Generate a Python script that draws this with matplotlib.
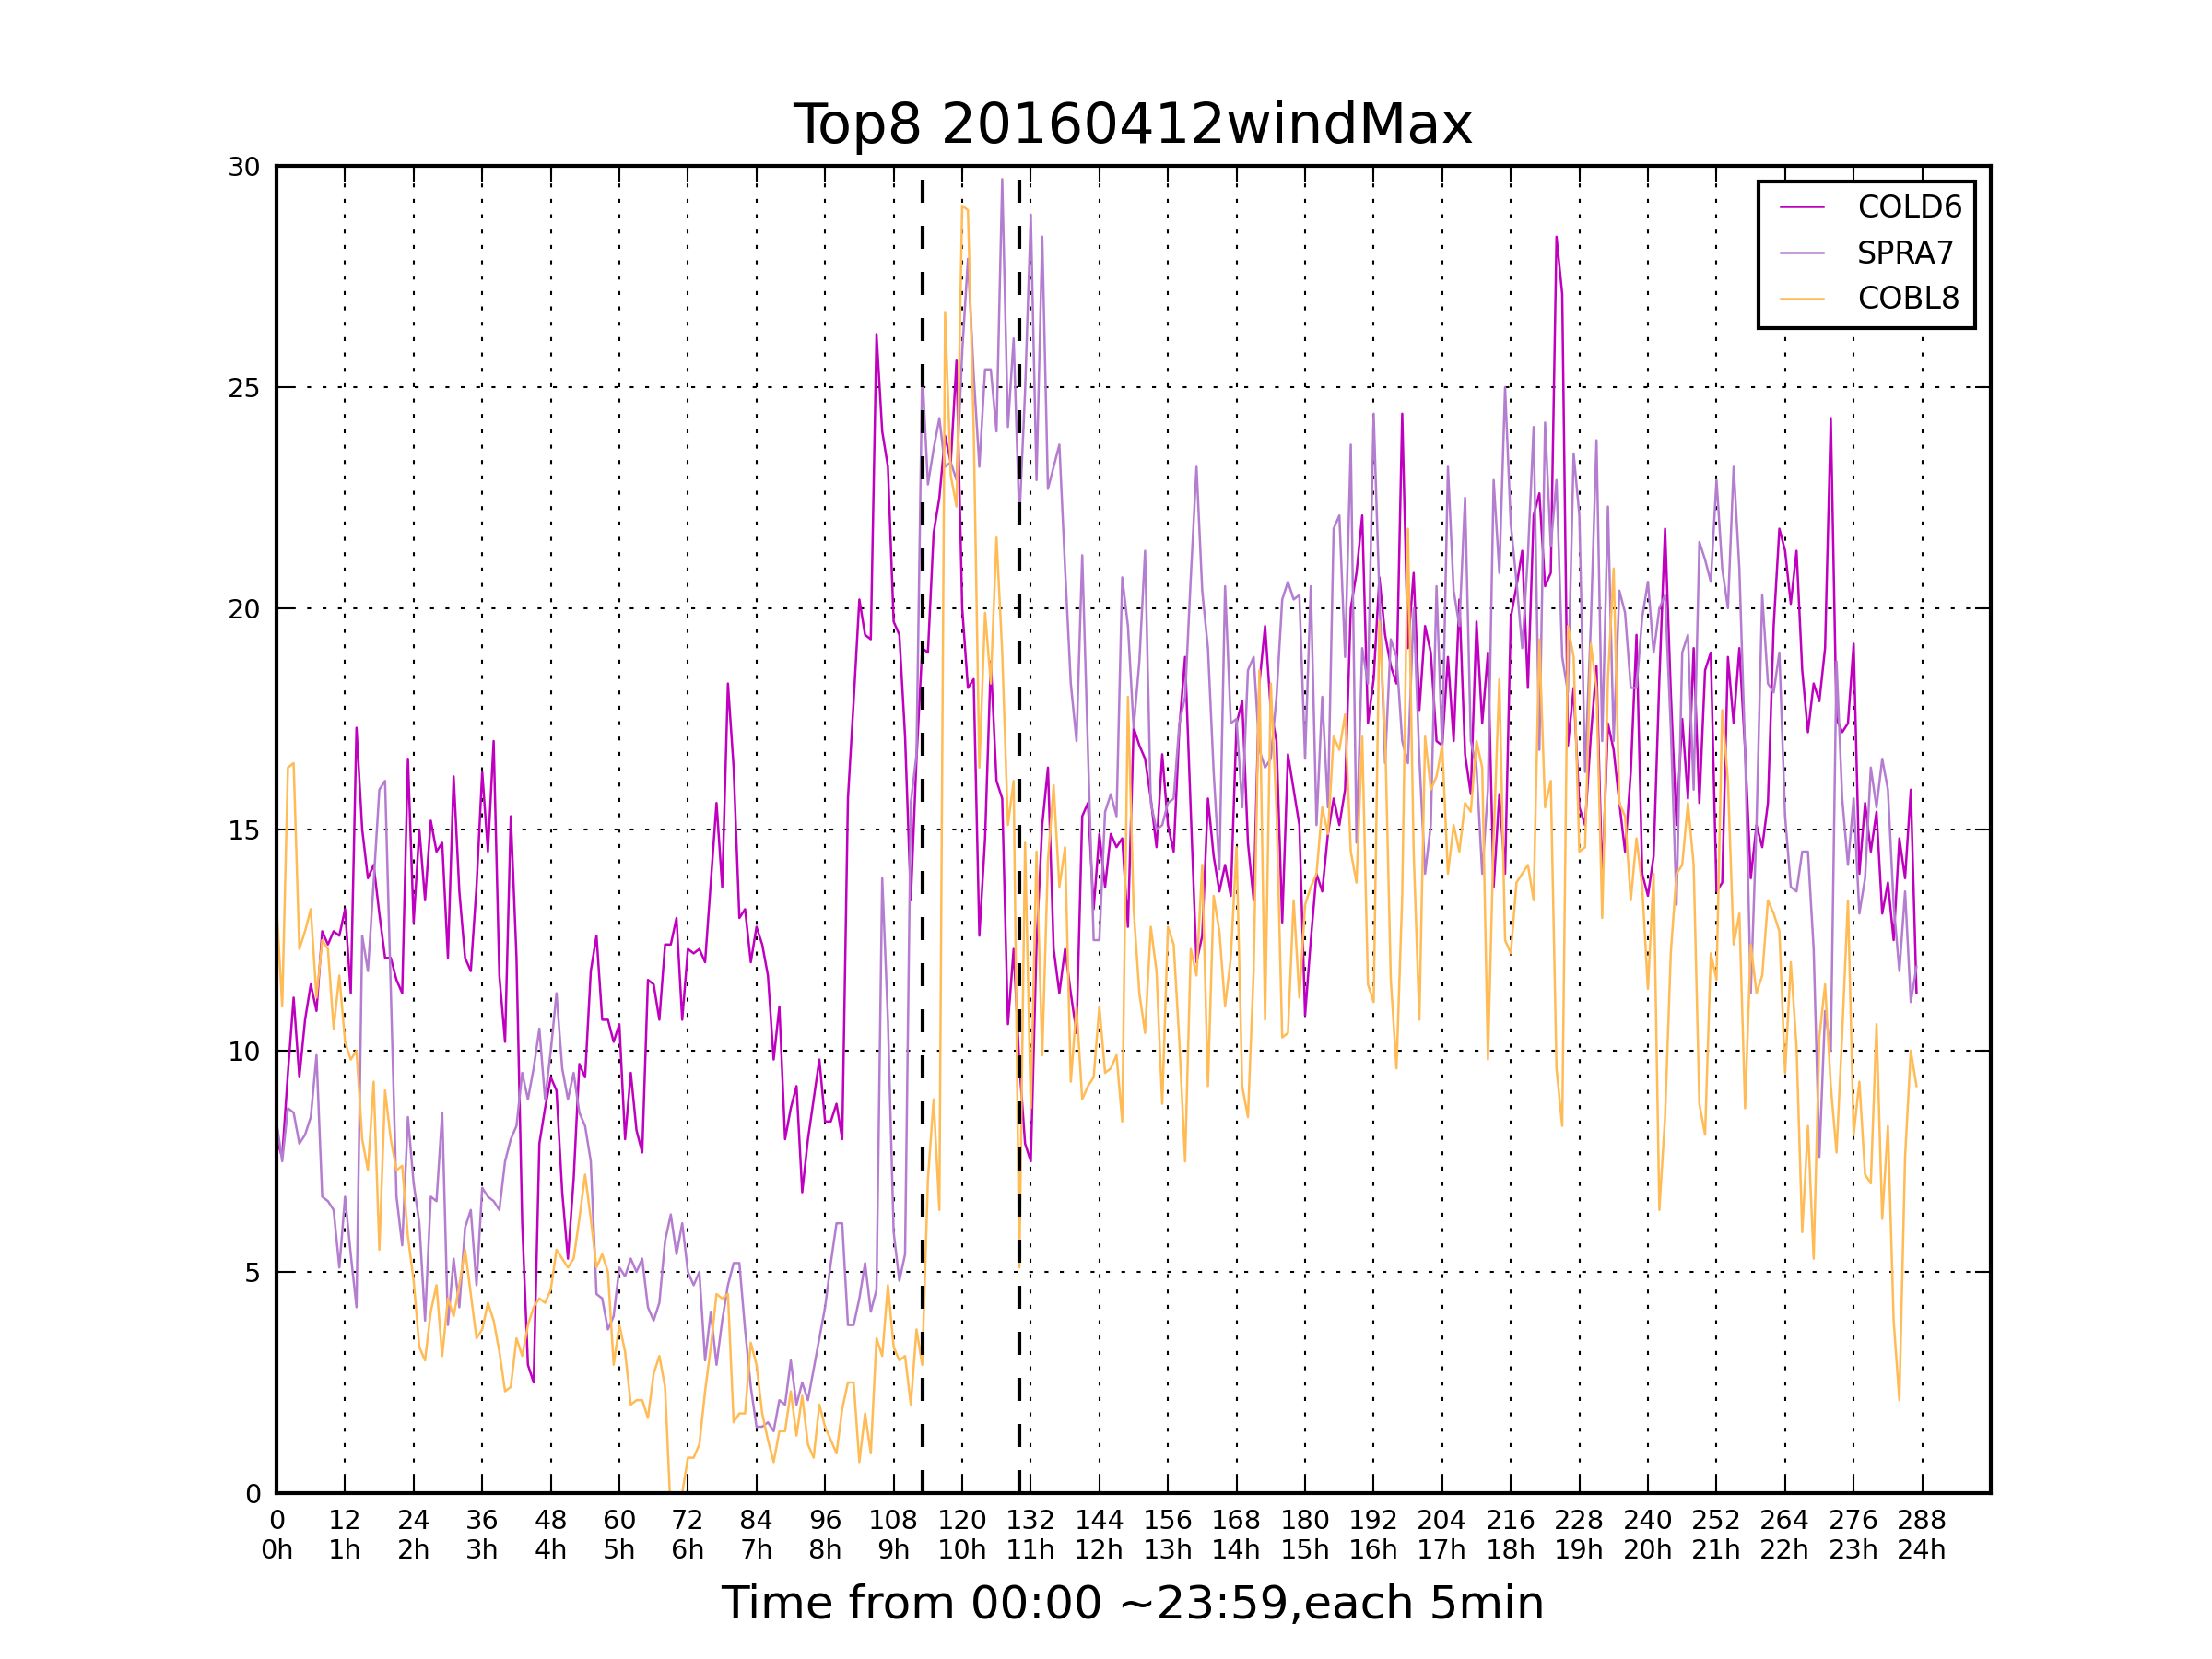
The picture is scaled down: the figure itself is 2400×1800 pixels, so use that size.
import matplotlib
matplotlib.use("Agg")
import matplotlib.pyplot as plt

plt.rcParams['font.family'] = ['DejaVu Sans']
plt.rcParams['lines.scale_dashes'] = False

title = "Top8 20160412windMax"
xlabel = "Time from 00:00 ~23:59,each 5min"
series_names = ["COLD6", "SPRA7", "COBL8"]
series_colors = ["#bf00bf", "#b47dd0", "#ffbb55"]
event_x = [113, 130]

cold6 = [
    8.0, 7.6, 9.5, 11.2, 9.4, 10.7, 11.5, 10.9, 12.7, 12.4, 12.7, 12.6, 13.2, 11.3, 17.3, 15.0,
    13.9, 14.2, 13.1, 12.1, 12.1, 11.6, 11.3, 16.6, 12.9, 15.0, 13.4, 15.2, 14.5, 14.7, 12.1, 16.2,
    13.6, 12.1, 11.8, 13.7, 16.3, 14.5, 17.0, 11.7, 10.2, 15.3, 12.1, 6.1, 2.9, 2.5, 7.9, 8.7,
    9.4, 9.1, 6.8, 5.3, 7.1, 9.7, 9.4, 11.8, 12.6, 10.7, 10.7, 10.2, 10.6, 8.0, 9.5, 8.2,
    7.7, 11.6, 11.5, 10.7, 12.4, 12.4, 13.0, 10.7, 12.3, 12.2, 12.3, 12.0, 13.8, 15.6, 13.7, 18.3,
    16.4, 13.0, 13.2, 12.0, 12.8, 12.4, 11.7, 9.8, 11.0, 8.0, 8.7, 9.2, 6.8, 8.0, 8.9, 9.8,
    8.4, 8.4, 8.8, 8.0, 15.7, 17.9, 20.2, 19.4, 19.3, 26.2, 24.0, 23.2, 19.7, 19.4, 17.1, 13.4,
    16.6, 19.1, 19.0, 21.7, 22.5, 23.9, 23.3, 25.6, 20.0, 18.2, 18.4, 12.6, 14.8, 18.8, 16.1, 15.7,
    10.6, 12.3, 9.7, 7.9, 7.5, 12.4, 15.1, 16.4, 12.3, 11.3, 12.3, 11.3, 10.4, 15.3, 15.6, 13.2,
    14.9, 13.7, 14.9, 14.6, 14.8, 12.8, 17.3, 16.9, 16.6, 15.7, 14.6, 16.7, 15.1, 14.5, 17.3, 18.9,
    15.4, 12.0, 12.6, 15.7, 14.4, 13.6, 14.2, 13.5, 17.4, 17.9, 14.7, 13.4, 18.3, 19.6, 17.7, 17.0,
    12.9, 16.7, 15.9, 15.1, 10.8, 12.5, 14.0, 13.6, 14.9, 15.7, 15.1, 15.9, 20.0, 20.8, 22.1, 17.4,
    18.4, 20.7, 19.4, 18.7, 18.3, 24.4, 19.1, 20.8, 17.7, 19.6, 19.0, 17.0, 16.9, 18.9, 17.0, 20.2,
    16.7, 15.8, 19.7, 17.4, 19.0, 13.7, 15.8, 14.0, 19.8, 20.5, 21.3, 18.2, 22.1, 22.6, 20.5, 20.8,
    28.4, 27.1, 16.9, 18.2, 15.5, 15.1, 17.1, 18.7, 13.8, 17.4, 16.8, 15.6, 14.5, 16.3, 19.4, 14.0,
    13.5, 14.4, 18.4, 21.8, 18.1, 15.1, 17.5, 15.7, 19.1, 15.6, 18.6, 19.0, 13.6, 13.8, 18.9, 17.4,
    19.1, 16.8, 13.9, 15.1, 14.6, 15.6, 19.6, 21.8, 21.3, 20.1, 21.3, 18.6, 17.2, 18.3, 17.9, 19.1,
    24.3, 17.5, 17.2, 17.4, 19.2, 14.0, 15.6, 14.5, 15.4, 13.1, 13.8, 12.5, 14.8, 13.9, 15.9, 11.3,
]

spra7 = [
    8.4, 7.5, 8.7, 8.6, 7.9, 8.1, 8.5, 9.9, 6.7, 6.6, 6.4, 5.1, 6.7, 5.4, 4.2, 12.6,
    11.8, 13.8, 15.9, 16.1, 11.4, 6.7, 5.6, 8.5, 7.0, 6.1, 3.9, 6.7, 6.6, 8.6, 3.8, 5.3,
    4.2, 6.0, 6.4, 4.7, 6.9, 6.7, 6.6, 6.4, 7.5, 8.0, 8.3, 9.5, 8.9, 9.6, 10.5, 8.9,
    10.0, 11.3, 9.6, 8.9, 9.5, 8.6, 8.3, 7.5, 4.5, 4.4, 3.7, 4.0, 5.1, 4.9, 5.3, 5.0,
    5.3, 4.2, 3.9, 4.3, 5.7, 6.3, 5.4, 6.1, 5.0, 4.7, 5.0, 3.0, 4.1, 2.9, 3.9, 4.7,
    5.2, 5.2, 3.7, 2.4, 1.5, 1.5, 1.6, 1.4, 2.1, 2.0, 3.0, 2.0, 2.5, 2.1, 2.8, 3.5,
    4.2, 5.2, 6.1, 6.1, 3.8, 3.8, 4.4, 5.2, 4.1, 4.6, 13.9, 10.7, 5.9, 4.8, 5.4, 15.6,
    16.7, 25.4, 22.8, 23.6, 24.3, 23.2, 23.3, 22.9, 25.8, 27.9, 25.3, 23.2, 25.4, 25.4, 24.0, 29.7,
    24.1, 26.1, 22.0, 24.9, 28.9, 22.9, 28.4, 22.7, 23.2, 23.7, 20.9, 18.3, 17.0, 21.2, 16.8, 12.5,
    12.5, 15.4, 15.8, 15.3, 20.7, 19.6, 17.3, 18.8, 21.3, 15.6, 15.0, 15.1, 15.6, 15.7, 17.4, 18.0,
    20.7, 23.2, 20.4, 19.1, 16.3, 14.1, 20.5, 17.4, 17.5, 15.5, 18.6, 18.9, 16.8, 16.4, 16.6, 18.0,
    20.2, 20.6, 20.2, 20.3, 16.6, 20.5, 15.1, 18.0, 15.5, 21.8, 22.1, 18.9, 23.7, 14.7, 19.1, 18.3,
    24.4, 20.3, 16.5, 19.3, 18.9, 17.0, 16.5, 20.0, 16.6, 14.0, 15.1, 20.5, 16.8, 23.2, 20.4, 19.6,
    22.5, 17.0, 16.4, 14.0, 15.9, 22.9, 20.8, 25.0, 21.9, 20.6, 19.1, 21.2, 24.1, 16.8, 24.2, 21.4,
    22.9, 18.9, 18.1, 23.5, 22.1, 16.3, 19.6, 23.8, 17.0, 22.3, 17.0, 20.4, 19.9, 18.2, 18.2, 19.8,
    20.6, 19.0, 20.0, 20.3, 17.3, 13.3, 19.0, 19.4, 15.9, 21.5, 21.1, 20.6, 22.9, 20.9, 20.0, 23.2,
    20.9, 16.8, 11.3, 15.1, 20.3, 18.3, 18.1, 19.0, 15.3, 13.7, 13.6, 14.5, 14.5, 12.3, 7.6, 10.9,
    10.0, 18.8, 15.7, 14.2, 15.7, 13.1, 13.9, 16.4, 15.5, 16.6, 15.9, 13.3, 11.8, 13.6, 11.1, 11.9,
]

cobl8 = [
    13.3, 11.0, 16.4, 16.5, 12.3, 12.7, 13.2, 11.2, 12.5, 12.3, 10.5, 11.7, 10.2, 9.8, 10.0, 8.0,
    7.3, 9.3, 5.5, 9.1, 8.0, 7.3, 7.4, 5.8, 4.8, 3.3, 3.0, 4.1, 4.7, 3.1, 4.4, 4.0,
    4.7, 5.5, 4.5, 3.5, 3.7, 4.3, 3.9, 3.2, 2.3, 2.4, 3.5, 3.1, 3.8, 4.2, 4.4, 4.3,
    4.6, 5.5, 5.3, 5.1, 5.3, 6.2, 7.2, 6.2, 5.1, 5.4, 5.0, 2.9, 3.8, 3.2, 2.0, 2.1,
    2.1, 1.7, 2.7, 3.1, 2.4, -0.5, -0.8, 0.0, 0.8, 0.8, 1.1, 2.3, 3.3, 4.5, 4.4, 4.5,
    1.6, 1.8, 1.8, 3.4, 2.9, 1.8, 1.2, 0.7, 1.4, 1.4, 2.3, 1.3, 2.2, 1.1, 0.8, 2.0,
    1.5, 1.2, 0.9, 1.9, 2.5, 2.5, 0.7, 1.8, 0.9, 3.5, 3.1, 4.7, 3.3, 3.0, 3.1, 2.0,
    3.7, 2.9, 7.1, 8.9, 6.4, 26.7, 23.0, 22.3, 29.1, 29.0, 24.1, 16.4, 19.9, 18.3, 21.6, 19.0,
    15.1, 16.1, 5.1, 14.7, 8.7, 14.5, 9.9, 14.3, 16.0, 13.7, 14.6, 9.3, 11.0, 8.9, 9.2, 9.4,
    11.0, 9.5, 9.6, 9.9, 8.4, 18.0, 13.2, 11.3, 10.4, 12.8, 11.8, 8.8, 12.8, 12.4, 10.2, 7.5,
    12.3, 11.7, 14.2, 9.2, 13.5, 12.7, 11.0, 12.1, 14.6, 9.2, 8.5, 11.8, 18.6, 10.7, 18.3, 15.4,
    10.3, 10.4, 13.4, 11.2, 13.3, 13.7, 14.0, 15.5, 14.9, 17.1, 16.8, 17.6, 14.5, 13.8, 17.1, 11.5,
    11.1, 19.7, 17.2, 11.6, 9.6, 13.5, 21.8, 14.5, 10.7, 17.1, 15.9, 16.2, 16.9, 14.0, 15.1, 14.5,
    15.6, 15.4, 17.0, 16.4, 9.8, 14.8, 18.4, 12.5, 12.2, 13.8, 14.0, 14.2, 13.4, 19.3, 15.5, 16.1,
    9.6, 8.3, 19.6, 18.9, 14.5, 14.6, 19.2, 18.2, 13.0, 18.4, 20.9, 15.6, 15.3, 13.4, 14.8, 13.7,
    11.4, 14.0, 6.4, 8.5, 12.2, 14.0, 14.2, 15.6, 14.2, 8.8, 8.1, 12.2, 11.6, 17.7, 16.1, 12.4,
    13.1, 8.7, 12.4, 11.3, 11.7, 13.4, 13.1, 12.7, 9.5, 12.0, 10.1, 5.9, 8.3, 5.3, 10.3, 11.5,
    9.2, 7.7, 10.4, 13.4, 8.1, 9.3, 7.2, 7.0, 10.6, 6.2, 8.3, 3.9, 2.1, 7.6, 10.0, 9.2,
]

xticks = list(range(0, 289, 12))
xtick_labels = [f"{t}\n{t // 12}h" for t in xticks]
yticks = [0, 5, 10, 15, 20, 25, 30]

fig = plt.figure(figsize=(8, 6), dpi=300)
ax = fig.add_subplot(111)
fig.subplots_adjust(left=0.125, right=0.9, bottom=0.1, top=0.9)

x = list(range(len(cold6)))
for name, vals, col in zip(series_names, [cold6, spra7, cobl8], series_colors):
    ax.plot(x, vals, color=col, linewidth=0.6, label=name)

for ex in event_x:
    ax.plot([ex, ex], [0, 30], color='black', linewidth=1.0, linestyle=(0, (6, 6)))

ax.set_xlim(0, 300)
ax.set_ylim(0, 30)
ax.set_xticks(xticks)
ax.set_xticklabels(xtick_labels, fontsize=6.94)
ax.set_yticks(yticks)
ax.set_yticklabels([str(v) for v in yticks], fontsize=6.94)
ax.tick_params(axis='both', which='major', direction='in', length=4, width=0.5,
               top=True, right=True, pad=4)
ax.grid(True, color='black', linestyle=(0, (1, 3)), linewidth=0.5)
for s in ax.spines.values():
    s.set_linewidth(1.0)

ax.set_title(title, fontsize=14.6)
ax.set_xlabel(xlabel, fontsize=12, labelpad=5)

leg = ax.legend(loc='upper right', fontsize=8, numpoints=2, handlelength=2.0,
                handletextpad=0.8, borderpad=0.4, labelspacing=0.5,
                fancybox=False, framealpha=1.0, borderaxespad=0.5)
leg.get_frame().set_edgecolor('black')
leg.get_frame().set_linewidth(1.0)

fig.savefig("out.png", dpi=300)
